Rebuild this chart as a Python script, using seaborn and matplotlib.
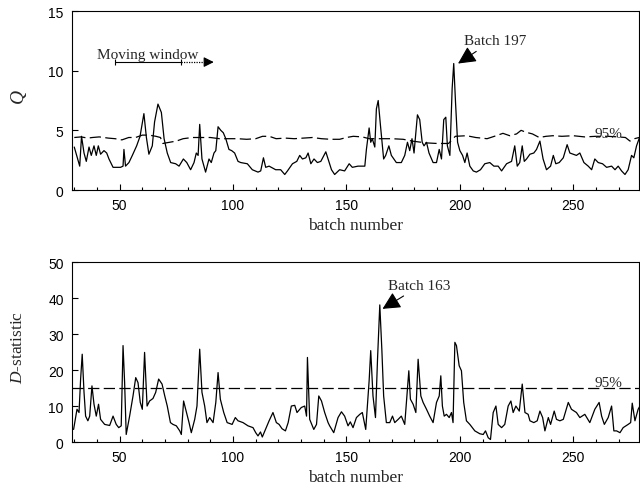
import numpy as np
import pandas as pd
import matplotlib
matplotlib.use("Agg")
import matplotlib.pyplot as plt
from matplotlib.ticker import MultipleLocator
import seaborn as sns

# ---------------- data ----------------
q_batch = [30, 32.4, 33.2, 34.3, 35.3, 36.5, 37.5, 38.7, 39.7, 40.6, 41.6, 43.1, 44.3, 45.3,
           47.1, 50.4, 51.5, 51.9, 52.6, 54.1, 55.6, 57.5, 59, 60.7, 61.8, 62.9, 64.4, 65.4,
           66.9, 68.4, 69.6, 71.0, 72.5, 74.7, 76.2, 78.1, 79.6, 81.3, 82.8, 83.8, 84.6, 85.3,
           86.3, 87.9, 89.4, 90.4, 91.6, 92.4, 93.4, 94.6, 95.7, 96.8, 98.2, 99.4, 100.7, 102.2,
           103.4, 106.3, 108.5, 111.0, 112.2, 113.4, 114.4, 115.9, 118.8, 121.0, 122.8, 124.0,
           126.2, 128.1, 129.4, 130.6, 132.1, 133.1, 134.3, 135.7, 137.2, 138.7, 140.9,
           143.4, 144.8, 147.0, 149.2, 151.2, 152.6, 155.1, 158.1, 158.8, 160.0, 160.7, 161.4,
           162.5, 163.2, 164.0, 165.0, 166.4, 167.3, 168.7, 169.8, 172.0, 174.2, 175.7, 176.9,
           177.9, 178.9, 179.8, 180.6, 181.3, 182.3, 183.4, 184.2, 185.3, 186.4, 188.2, 189.7,
           190.9, 191.9, 192.9, 193.8, 194.5, 195.6, 196.6, 197.3, 198.1, 199.0, 200.0, 201.2,
           202.2, 203.2, 204.4, 205.9, 207.3, 209.1, 211.0, 213.2, 215.0, 216.9, 218.4, 220.6,
           222.8, 224.2, 225.3, 226.4, 227.5, 228.4, 229.4, 230.9, 232.6, 233.8, 235.3, 236.7,
           238.2, 240.0, 241.2, 242.3, 243.8, 245.6, 247.3, 248.5, 250.0, 251.4, 252.9, 254.7,
           256.6, 258.1, 259.5, 261.0, 262.9, 264.7, 266.9, 268.4, 269.8, 271.3, 272.8, 274.2,
           275.7, 276.7, 277.9, 279.4]
q_value = [3.6, 2.0, 4.5, 3.1, 2.4, 3.6, 2.9, 3.7, 2.9, 3.7, 3.0, 3.3, 3.1, 2.6,
           1.9, 1.9, 2.0, 3.4, 2.0, 2.3, 2.9, 3.7, 4.5, 6.4, 4.4, 3.0, 3.7, 5.7,
           7.2, 6.5, 4.3, 3.1, 2.3, 2.2, 2.0, 2.6, 2.3, 1.7, 2.3, 3.1, 2.9, 5.5,
           2.6, 1.5, 2.6, 2.3, 3.1, 3.3, 5.3, 5.0, 4.8, 4.3, 3.4, 3.3, 3.1, 2.4,
           2.3, 2.2, 1.7, 1.5, 1.6, 2.7, 1.9, 2.0, 1.7, 1.7, 1.3, 1.6,
           2.2, 2.4, 2.9, 2.6, 2.7, 3.1, 2.2, 2.6, 2.3, 2.4, 3.2,
           1.7, 1.3, 1.7, 1.6, 2.2, 1.9, 2.0, 2.0, 3.4, 5.2, 4.0, 4.3,
           3.6, 6.8, 7.5, 5.4, 2.6, 2.9, 3.7, 2.9, 2.3, 2.3, 2.9, 4.0,
           3.3, 4.3, 3.1, 4.8, 6.3, 5.9, 4.0, 3.7, 4.0, 3.1, 2.3, 2.3,
           3.4, 2.6, 5.9, 6.1, 3.7, 2.9, 8.5, 10.6, 7.3, 4.0, 3.3, 2.9,
           2.3, 3.1, 2.0, 1.6, 1.5, 1.7, 2.2, 2.3, 2.0, 2.0, 1.6, 2.2,
           2.4, 3.7, 2.0, 2.3, 3.7, 2.4, 2.6, 3.0, 3.1, 3.4, 4.1, 2.6,
           1.7, 2.0, 2.9, 2.2, 2.3, 2.7, 3.8, 3.1, 3.0, 2.9, 3.1, 2.3,
           2.0, 1.7, 2.6, 2.3, 2.2, 1.9, 2.0, 1.7, 2.0, 1.6, 1.3, 1.7,
           2.9, 2.7, 3.7, 4.5]

q_limit_batch = [30, 33, 36, 38, 41, 45, 48, 51, 54, 57, 60, 63, 66, 68, 69, 72, 75, 78, 82,
                 86, 90, 94, 98, 102, 106, 110, 113, 116, 119, 123, 127, 131, 135, 139, 143,
                 147, 150, 153, 157, 160, 166, 170, 175, 179, 185, 190, 195, 198, 203, 207,
                 212, 216, 219, 222, 225, 227, 229, 232, 235, 238, 241, 245, 250, 255, 260,
                 265, 270, 273, 275, 277, 279]
q_limit_value = [4.4, 4.45, 4.35, 4.4, 4.45, 4.35, 4.3, 4.2, 4.4, 4.4, 4.6, 4.6, 4.5, 4.4,
                 3.9, 4.0, 4.1, 4.3, 4.4, 4.4, 4.4, 4.3, 4.3, 4.3, 4.25, 4.3, 4.5, 4.5, 4.3,
                 4.35, 4.3, 4.35, 4.4, 4.3, 4.25, 4.25, 4.4, 4.5, 4.45, 4.3, 4.3, 4.3, 4.25,
                 4.1, 3.95, 3.9, 3.9, 4.5, 4.55, 4.4, 4.3, 4.55, 4.75, 4.55, 4.7, 5.0, 4.85,
                 4.7, 4.4, 4.5, 4.55, 4.5, 4.55, 4.45, 4.5, 4.5, 4.45, 4.4, 4.1, 4.3, 4.4]

d_batch = [29.7, 31.2, 32.1, 32.8, 33.5, 34.3, 35.0, 36.0, 36.8, 37.8, 38.7, 39.7, 40.7, 41.6,
           43.4, 45.6, 47.1, 48.5, 49.6, 50.7, 51.5, 52.2, 52.9, 54.4, 55.9, 57.1, 58.1, 59.1,
           60.0, 61.0, 62.1, 63.2, 64.7, 65.9, 67.2, 68.7, 69.9, 71.0, 72.4, 73.5, 75.0, 76.5,
           77.2, 78.2, 79.7, 80.6, 81.6, 83.1, 84.1, 85.3, 86.3, 87.5, 88.5, 89.7, 91.2, 92.4,
           93.4, 94.4, 95.9, 97.4, 99.6, 101.0, 102.2, 104.4, 106.6, 108.8, 110.0, 111.0, 112.1,
           112.9, 114.3, 115.9, 117.6, 119.1, 120.3, 121.6, 123.1, 124.3, 125.7, 127.2, 128.2,
           130.1, 131.6, 132.4, 132.8, 133.8, 135.6, 136.8, 137.8, 139.0, 140.4, 141.9,
           142.6, 144.4, 146.3, 147.8, 149.2, 150.7, 151.7, 152.9, 154.4, 155.9, 157.0, 158.5,
           160.0, 160.7, 161.7, 162.8, 163.7, 164.7, 165.6, 166.4, 167.6, 169.1, 170.3, 171.3,
           172.8, 174.2, 175.7, 176.9, 177.5, 178.2, 179.4, 180.6, 181.6, 182.8, 183.8, 185.3,
           186.7, 188.2, 189.7, 190.9, 191.6, 192.3, 193.1, 194.1, 195.3, 196.3, 197.0, 197.8,
           198.5, 199.7, 200.7, 201.7, 202.9, 204.4, 206.6, 208.8, 210.3, 211.3, 212.5, 213.5,
           214.7, 215.9, 216.9, 218.4, 219.8, 221.3, 222.5, 223.5, 224.7, 226.2, 227.5, 228.7,
           230.1, 230.9, 232.6, 234.1, 235.3, 236.5, 237.5, 239.0, 240.0, 241.6, 242.6, 244.1,
           245.6, 247.8, 249.2, 251.4, 252.9, 255.1, 257.3, 259.5, 261.4, 262.5, 263.7, 265.4,
           266.9, 267.9, 269.1, 270.6, 272.0, 274.2, 275.3, 276.0, 277.2, 278.6, 279.4]
d_value = [3.5, 9.1, 8.2, 17.5, 24.4, 13.8, 7.2, 5.9, 7.2, 15.6, 10.5, 7.2, 10.5, 6.3,
           4.9, 4.6, 7.2, 4.9, 4.0, 4.5, 26.8, 16.5, 2.1, 7.2, 12.8, 17.9, 16.5, 11.0,
           9.1, 24.9, 10.0, 11.4, 12.1, 13.8, 17.5, 16.1, 12.8, 10.0, 5.4, 4.9, 4.5, 3.1,
           2.1, 11.4, 7.7, 5.4, 2.6, 6.3, 10.0, 25.8, 13.8, 10.0, 5.4, 6.8, 5.4, 11.0,
           19.3, 11.9, 8.2, 5.4, 4.9, 6.8, 5.9, 5.4, 4.5, 4.0, 2.6, 1.7, 2.8,
           1.4, 3.5, 5.9, 8.2, 5.4, 4.9, 3.7, 3.1, 5.4, 10.0, 10.2, 8.2,
           9.6, 10.0, 7.2, 23.5, 6.3, 3.5, 4.9, 12.8, 11.4, 8.2, 5.4,
           4.5, 2.6, 6.8, 8.4, 7.2, 4.5, 5.6, 4.0, 6.8, 7.7, 8.2, 3.5,
           17.0, 25.4, 12.8, 6.8, 23.0, 38.1, 25.8, 12.8, 5.4, 5.4, 7.2, 5.4,
           6.3, 7.2, 4.9, 14.7, 19.8, 11.9, 10.5, 8.2, 23.0, 12.8, 11.0, 9.1,
           7.2, 5.4, 11.0, 12.8, 18.4, 10.0, 7.2, 7.7, 6.8, 8.2, 5.4, 27.7,
           26.8, 21.2, 19.8, 11.0, 5.9, 4.9, 3.1, 2.3, 2.1, 3.1, 1.2, 0.7,
           8.2, 10.0, 4.9, 4.0, 4.9, 10.0, 11.4, 8.2, 10.0, 8.6, 16.1, 8.2,
           7.7, 5.9, 5.4, 5.9, 8.6, 6.8, 3.1, 6.8, 4.9, 8.6, 6.3, 5.9,
           6.3, 11.0, 9.1, 8.2, 6.8, 7.7, 5.4, 9.1, 11.0, 7.2, 4.9, 6.8,
           10.0, 3.1, 3.1, 2.6, 4.0, 4.9, 5.4, 10.8, 5.9, 9.1, 10.0]
d_limit = 15

x_ticks = [50, 100, 150, 200, 250]
q_ticks = [0, 5, 10, 15]
d_ticks = [0, 10, 20, 30, 40, 50]

# ---------------- style ----------------
sns.set_style("ticks")
plt.rcParams['font.family'] = ['Liberation Sans', 'DejaVu Sans']
plt.rcParams['mathtext.fontset'] = 'custom'
plt.rcParams['mathtext.rm'] = 'Liberation Serif'
plt.rcParams['mathtext.it'] = 'Liberation Serif:italic'
SERIF = ['Liberation Serif', 'DejaVu Serif']

fig = plt.figure(figsize=(6.4, 4.89), dpi=100)
ax1 = fig.add_axes([0.1125, 0.6094, 0.886, 0.366])
ax2 = fig.add_axes([0.1125, 0.094, 0.886, 0.368])

q_df = pd.DataFrame({'batch': q_batch, 'Q': q_value})
ql_df = pd.DataFrame({'batch': q_limit_batch, 'limit': q_limit_value})
d_df = pd.DataFrame({'batch': d_batch, 'D': d_value})

sns.lineplot(data=ql_df, x='batch', y='limit', ax=ax1, color='black', lw=0.9,
             estimator=None, sort=False)
ax1.lines[-1].set_dashes((9, 3.5))
sns.lineplot(data=q_df, x='batch', y='Q', ax=ax1, color='black', lw=0.9,
             estimator=None, sort=False)

ax2.axhline(d_limit, color='black', lw=0.9, dashes=(9, 3.5))
sns.lineplot(data=d_df, x='batch', y='D', ax=ax2, color='black', lw=0.9,
             estimator=None, sort=False)

for ax, yt, ylim in ((ax1, q_ticks, (0, 15)), (ax2, d_ticks, (0, 50))):
    ax.set_xlim(29, 279)
    ax.set_ylim(*ylim)
    ax.set_xticks(x_ticks)
    ax.set_yticks(yt)
    ax.xaxis.set_minor_locator(MultipleLocator(10))
    ax.tick_params(which='both', direction='in', top=False, right=False,
                   labelsize=10, colors='black', width=0.8)
    ax.tick_params(which='major', length=4, pad=6)
    ax.tick_params(which='minor', length=2.5)
    for s in ax.spines.values():
        s.set_linewidth(0.8)
        s.set_color('black')
    ax.set_xlabel('batch number', fontfamily=SERIF, fontsize=12.5, labelpad=3)

ax1.set_ylabel('Q', fontfamily=SERIF, fontstyle='italic', fontsize=14)
ax2.set_ylabel('$D$-statistic', fontfamily=SERIF, fontsize=12.5)
for ax in (ax1, ax2):
    ax.yaxis.label.set_va('center')
    ax.yaxis.set_label_coords(-0.095, 0.53)

# ---------------- annotations ----------------
head = '-|>,head_length=0.6,head_width=0.3'
ax1.text(62.4, 11.05, 'Moving window', fontfamily=SERIF, fontsize=11,
         ha='center', va='baseline')
ax1.plot([47.8, 77.2], [10.72, 10.72], color='black', lw=0.8,
         marker='|', markersize=5, markeredgewidth=0.8)
ax1.plot([77.2, 88.5], [10.72, 10.72], color='black', lw=0.9, ls=(0, (1, 1)))
ax1.annotate('', xy=(91.5, 10.72), xytext=(88.5, 10.72),
             arrowprops=dict(arrowstyle=head, color='black', lw=0.8,
                             mutation_scale=10, shrinkA=0, shrinkB=0))

ax1.annotate('Batch 197', xy=(199.2, 10.6), xytext=(215.4, 12.5),
             fontfamily=SERIF, fontsize=11, ha='center', va='center',
             arrowprops=dict(arrowstyle=head, color='black', lw=0.8,
                             mutation_scale=18, shrinkA=1, shrinkB=0,
                             relpos=(0.3, 0.0)))
ax2.annotate('Batch 163', xy=(165.9, 37.0), xytext=(182.2, 43.5),
             fontfamily=SERIF, fontsize=11, ha='center', va='center',
             arrowprops=dict(arrowstyle=head, color='black', lw=0.8,
                             mutation_scale=18, shrinkA=1, shrinkB=0,
                             relpos=(0.35, 0.0)))

ax1.text(265.5, 4.75, '95%', fontfamily=SERIF, fontsize=11, ha='center', va='center')
ax2.text(265.5, 16.6, '95%', fontfamily=SERIF, fontsize=11, ha='center', va='center')

fig.savefig('out.png', dpi=100)
